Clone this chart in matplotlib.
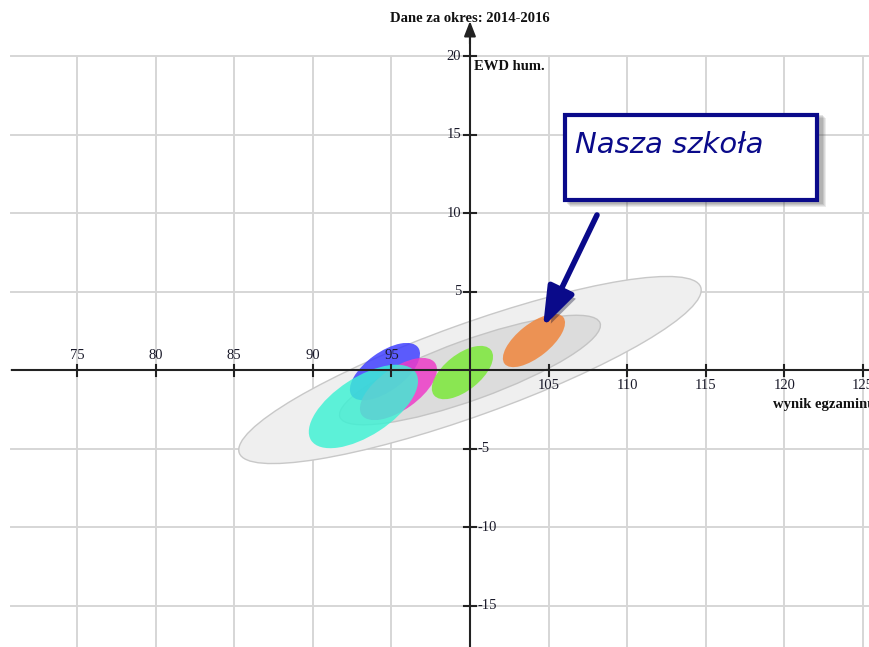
import matplotlib.pyplot as plt
from matplotlib.patches import Ellipse, Rectangle
import matplotlib.patheffects as pe

# data
x_ticks = [75, 80, 85, 90, 95, 105, 110, 115, 120, 125]
y_ticks = [20, 15, 10, 5, -5, -10, -15]
grid_x = [75, 80, 85, 90, 95, 100, 105, 110, 115, 120, 125]
grid_y = [20, 15, 10, 5, 0, -5, -10, -15]

# background ranges: (cx, cy, width, height, angle)
range_names = ['outer', 'inner']
range_cx = [100.0, 100.0]
range_cy = [0.0, 0.0]
range_w = [31.2, 17.6]
range_h = [5.85, 3.8]
range_angle = [19.8, 19.9]
range_fill = ['#efefef', '#dcdcdc']
range_edge = ['#c8c8c8', '#c4c4c4']

# school ellipses
school_names = ['niebieska', 'rozowa', 'turkusowa', 'zielona', 'nasza']
school_cx = [94.59, 95.45, 93.22, 99.52, 104.07]
school_cy = [-0.10, -1.21, -2.32, -0.16, 1.88]
school_w = [5.22, 5.72, 7.93, 4.63, 4.77]
school_h = [2.45, 2.65, 3.7, 2.3, 2.1]
school_angle = [36, 35.5, 33, 38.5, 38.5]
school_color = ['#3a3aff', '#ee3cc8', '#3cf2d4', '#7ce83a', '#f0853c']
school_alpha = [0.82, 0.85, 0.82, 0.85, 0.85]

plt.rcParams['font.family'] = ['Liberation Serif', 'DejaVu Serif']

W, H = 870, 647
fig = plt.figure(figsize=(W / 100, H / 100), dpi=100)
ax = fig.add_axes([11 / W, 0, (W - 11) / W, (H - 56) / H])
ax.set_xlim(70.80, 125.45)
ax.set_ylim(-17.64, 20.0)
ax.axis('off')

# grid
for gx in grid_x:
    ax.plot([gx, gx], [-17.64, 20], color='#d6d6d6', lw=1.4, zorder=0)
for gy in grid_y:
    ax.plot([70.8, 125.45], [gy, gy], color='#d6d6d6', lw=1.4, zorder=0, clip_on=False)

# ellipses
for i in range(len(range_names)):
    ax.add_patch(Ellipse((range_cx[i], range_cy[i]), range_w[i], range_h[i],
                         angle=range_angle[i], facecolor=range_fill[i],
                         edgecolor=range_edge[i], lw=1.0, zorder=1))
for i in range(len(school_names)):
    ax.add_patch(Ellipse((school_cx[i], school_cy[i]), school_w[i], school_h[i],
                         angle=school_angle[i], facecolor=school_color[i],
                         alpha=school_alpha[i], lw=0, zorder=2))

# axes lines
ax.plot([70.8, 125.45], [0, 0], color='#222222', lw=1.5, zorder=3)
ax.plot([100, 100], [-17.64, 21.2], color='#222222', lw=1.5, zorder=3, clip_on=False)
ax.annotate('', xy=(100, 22.4), xytext=(100, 20.6), xycoords='data',
            arrowprops=dict(arrowstyle='-|>,head_length=0.9,head_width=0.35',
                            color='#222222', lw=1.5), annotation_clip=False, zorder=3)

# ticks and labels
tick_kw = dict(fontsize=10.5, color='#1a1a2a')
for tx in x_ticks:
    ax.plot([tx, tx], [-0.35, 0.35], color='#222222', lw=1.5, zorder=3)
    if tx < 100:
        ax.text(tx, 0.5, str(tx), ha='center', va='bottom', **tick_kw)
    else:
        ax.text(tx, -0.6, str(tx), ha='center', va='top', **tick_kw)
for ty in y_ticks:
    ax.plot([99.6, 100.4], [ty, ty], color='#222222', lw=1.5, zorder=3, clip_on=False)
    if ty > 0:
        ax.text(99.45, ty, str(ty), ha='right', va='center', **tick_kw)
    else:
        ax.text(100.5, ty, '-' + str(-ty), ha='left', va='center', **tick_kw)

ax.text(100.25, 19.3, 'EWD hum.', ha='left', va='center', fontsize=10.5,
        fontweight='bold', color='#111111')
ax.text(119.25, -2.2, 'wynik egzaminu', ha='left', va='center', fontsize=10.5,
        fontweight='bold', color='#111111', clip_on=False)
fig.text(470 / W, 1 - 18 / H, 'Dane za okres: 2014-2016', ha='center', va='center',
         fontsize=10.5, fontweight='bold', color='#111111')

# callout box with shadow
bx0, by0, bx1, by1 = 565, 115, 817, 200
for k, a in enumerate([0.10, 0.10, 0.12, 0.14]):
    off = 7 - k
    fig.add_artist(Rectangle(((bx0 + off - 2) / W, 1 - (by1 + off) / H),
                             (bx1 - bx0 + 4) / W, (by1 - by0 + 4) / H,
                             facecolor='#444444', edgecolor='none', alpha=a,
                             transform=fig.transFigure, zorder=5))
fig.add_artist(Rectangle((bx0 / W, 1 - by1 / H), (bx1 - bx0) / W, (by1 - by0) / H,
                         facecolor='white', edgecolor='#0a0a8a', lw=3,
                         transform=fig.transFigure, zorder=6))
fig.text(575 / W, 1 - 145 / H, 'Nasza szkoła', ha='left', va='center', fontsize=21,
         style='italic', color='#0a0a8a', family='DejaVu Sans', zorder=7)

# arrow pointing at our school
arr = ax.annotate('', xy=(543, H - 327), xytext=(597, H - 215), xycoords='figure pixels',
                  arrowprops=dict(arrowstyle='-|>,head_length=2.4,head_width=0.85',
                                  color='#0a0a8a', lw=4, shrinkA=0, shrinkB=0),
                  annotation_clip=False, zorder=8)
arr.arrow_patch.set_path_effects([pe.withSimplePatchShadow(offset=(3, -3), alpha=0.35)])

fig.savefig('out.png', dpi=100)
